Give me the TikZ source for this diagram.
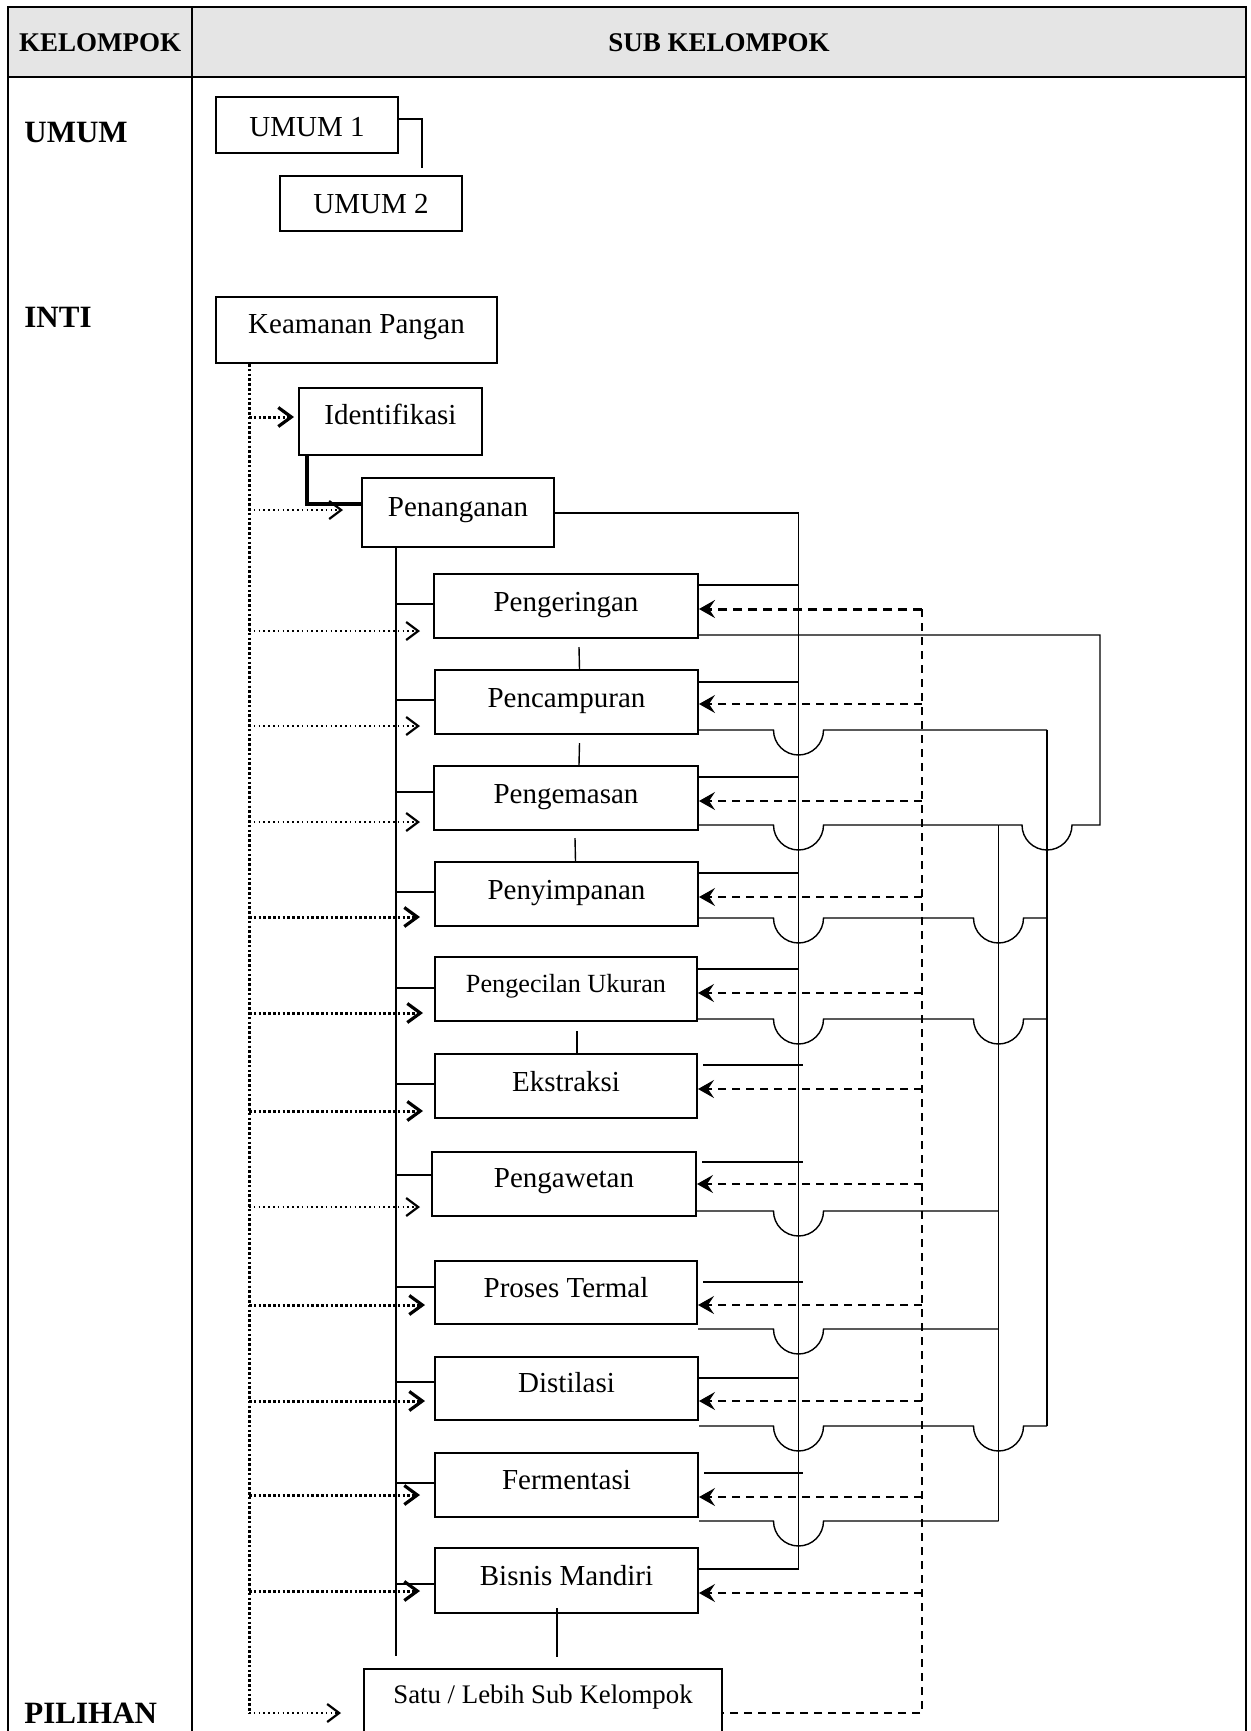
\documentclass[tikz,border=0pt]{standalone}
\usepackage{fontspec}
\setmainfont{Liberation Serif}
\usetikzlibrary{arrows.meta}
\definecolor{hdrgray}{RGB}{229,229,229}
\newcommand\mybox[7]{%
  \pgfmathsetmacro\mbW{(#4-#2)*0.5}%
  \pgfmathsetmacro\mbH{(#5-#3)*0.5}%
  \pgfmathsetmacro\mbX{(#2+#4)/2}%
  \pgfmathsetmacro\mbY{(#3+#5)/2}%
  \node[boxsty, minimum width=\mbW pt, minimum height=\mbH pt, text height=#6pt] (#1) at (\mbX,\mbY) {#7};}
\tikzset{
  boxsty/.style={draw, line width=1pt, inner sep=0pt, text depth=0pt, font=\fontsize{14.5}{17}\selectfont},
  tbl/.style={line width=1.3pt},
  hdr/.style={font=\bfseries\fontsize{13.5}{16}\selectfont},
  lbl/.style={font=\bfseries\fontsize{15.5}{18}\selectfont, anchor=base west, inner sep=0pt},
  conn/.style={line width=0.7pt},
  thk/.style={line width=1.6pt},
  dotthin/.style={line width=0.8pt, dash pattern=on 0.8pt off 1.6pt},
  dotthk/.style={line width=1.5pt, dash pattern=on 1.3pt off 1.1pt},
  dotarr/.style={-{Straight Barb[length=6pt,width=9pt,line width=1.1pt]}},
  dotarrb/.style={-{Straight Barb[length=6.5pt,width=9.5pt,line width=1.6pt]}},
  dashln/.style={line width=0.75pt, dash pattern=on 4pt off 3pt},
  dasharr/.style={dashln, -{Stealth[length=8pt,width=9pt,inset=3pt]}},
  dashthk/.style={line width=1.5pt, dash pattern=on 4.5pt off 3pt, -{Stealth[length=8pt,width=9pt,inset=3pt]}}
}
\begin{document}
\begin{tikzpicture}[x=0.5pt,y=-0.5pt]
\clip (0,0) rectangle (1250,1731);
% table
\fill[hdrgray] (8,7) rectangle (1246,77);
\draw[tbl] (8,1745) -- (8,7) -- (1246,7) -- (1246,1745);
\draw[tbl] (8,77) -- (1246,77);
\draw[tbl] (192,7) -- (192,1745);
\node[hdr] (hk) at (100,43) {KELOMPOK};
\node[hdr] (hs) at (719,43) {SUB KELOMPOK};
\node[lbl] (lumum) at (24,142) {UMUM};
\node[lbl] (linti) at (24,327) {INTI};
\node[lbl] (lpil) at (24,1723) {PILIHAN};
% boxes
\mybox{u1}{216}{97}{398}{153}{11}{UMUM 1}
\mybox{u2}{280}{176}{462}{231}{9.5}{UMUM 2}
\mybox{kp}{216}{297}{497}{363}{3}{Keamanan Pangan}
\mybox{idf}{299}{388}{482}{455}{2.5}{Identifikasi}
\mybox{pnn}{362}{478}{554}{547}{3.5}{Penanganan}
\mybox{pgr}{434}{574}{698}{638}{5}{Pengeringan}
\mybox{pcm}{435}{670}{698}{734}{5}{Pencampuran}
\mybox{pgm}{434}{766}{698}{830}{5}{Pengemasan}
\mybox{pys}{435}{862}{698}{926}{5}{Penyimpanan}
\mybox{puk}{435}{957}{697}{1021}{3}{\fontsize{13.1}{15}\selectfont Pengecilan Ukuran}
\mybox{eks}{435}{1054}{697}{1118}{5}{Ekstraksi}
\mybox{paw}{432}{1152}{696}{1216}{3}{Pengawetan}
\mybox{ptm}{435}{1261}{697}{1324}{5}{Proses Termal}
\mybox{dst}{435}{1357}{698}{1420}{4}{Distilasi}
\mybox{fmt}{435}{1453}{698}{1517}{4}{Fermentasi}
\mybox{bmd}{435}{1548}{698}{1613}{4.5}{Bisnis Mandiri}
\node[boxsty, minimum width=179pt, minimum height=50pt] (satu) at (543,1719) {};
\node[font=\fontsize{13.4}{16}\selectfont, anchor=base, inner sep=0pt] (satut) at (543,1703) {Satu / Lebih Sub Kelompok};
% coordinates
\coordinate (busA) at (798.5,513);
\coordinate (busB) at (998.5,825);
\coordinate (busC) at (1047,730);
\coordinate (dbus) at (922,609);
\coordinate (busL) at (396,547);
\coordinate (dotb) at (249,365);
% UMUM link
\draw[conn] (u1.east |- 0,119) -- (422,119) -- (422,168);
% Identifikasi -> Penanganan
\draw[thk] (idf.south -| 307,0) -- (307,504) -- (pnn.west |- 0,504);
% bus A
\draw[conn] (pnn.east |- 0,513) -- (busA) -- (busA |- 0,1569) -- (bmd.east |- 0,1569);
\foreach \nm/\yy in {pgr/585, pcm/682, pgm/777, pys/873, puk/969, dst/1378}
  \draw[conn] (\nm.east |- 0,\yy) -- (busA |- 0,\yy);
\foreach \nm/\yy in {eks/1065, paw/1162, ptm/1282, fmt/1473}
  \draw[conn] ([xshift=2.5pt]\nm.east |- 0,\yy) -- ([xshift=2pt]busA |- 0,\yy);
% bus B and C
\draw[conn] (busB) -- (busB |- 0,1521);
\draw[conn] (busC) -- (busC |- 0,1426);
% bottom lines
\draw[conn] (pgr.east |- 0,635) -- (1100,635) -- (1100,825) -- (1072,825) arc[start angle=0,end angle=-180,radius=12.5pt] -- (busB);
\draw[conn] (pcm.east |- 0,730) -- (773.5,730) arc[start angle=180,end angle=360,radius=12.5pt] -- (busC);
\foreach \nm/\yy in {pgm/825, paw/1211, ptm/1329, fmt/1521}
  \draw[conn] (\nm.east |- 0,\yy) -- (773.5,\yy) arc[start angle=180,end angle=360,radius=12.5pt] -- (busB |- 0,\yy);
\foreach \nm/\yy in {pys/918, puk/1019, dst/1426}
  \draw[conn] (\nm.east |- 0,\yy) -- (773.5,\yy) arc[start angle=180,end angle=360,radius=12.5pt] -- (973.5,\yy) arc[start angle=180,end angle=360,radius=12.5pt] -- (busC |- 0,\yy);
% dashed feedback
\draw[dashln] (dbus) -- (dbus |- 0,1713) -- (satu.east |- 0,1713);
\draw[dashthk] (dbus) -- (pgr.east |- dbus);
\foreach \nm/\yy in {pcm/704, pgm/801, pys/897, puk/993, eks/1089, paw/1184, ptm/1305, dst/1401, fmt/1497, bmd/1593}
  \draw[dasharr] (dbus |- 0,\yy) -- (\nm.east |- 0,\yy);
% vertical links between boxes
\draw[conn] ([xshift=6.5pt,yshift=-4pt]pgr.south) -- ([xshift=6.5pt]pcm.north);
\draw[conn] ([xshift=6.5pt,yshift=-4pt]pcm.south) -- ([xshift=6.5pt]pgm.north);
\draw[conn] ([xshift=4.5pt,yshift=-3.5pt]pgm.south) -- ([xshift=4.5pt]pys.north);
\draw[conn] ([xshift=5.5pt,yshift=-4.5pt]puk.south) -- ([xshift=5.5pt]eks.north);
\draw[conn] ([xshift=-4.75pt,yshift=3pt]bmd.south) -- ++(0,49);
% left bus
\draw[conn] (busL) -- (busL |- 0,1656);
\foreach \nm/\yy in {pgr/604, pcm/700, pgm/792, pys/892, puk/988, eks/1084, paw/1175, ptm/1287, dst/1382, fmt/1483, bmd/1584}
  \draw[conn] (busL |- 0,\yy) -- (\nm.west |- 0,\yy);
% dotted
\draw[dotthk] (kp.south -| dotb) -- (dotb |- 0,1713);
\foreach \nm/\yy/\sh in {pnn/510/9, pgr/631/6.5, pcm/726/7, pgm/822/6.5, paw/1207/5.5}
  \draw[dotthin, dotarr, shorten >=\sh pt] (dotb |- 0,\yy) -- (\nm.west |- 0,\yy);
\foreach \nm/\yy/\sh in {idf/417/2, pys/917/7, puk/1013/5.5, eks/1111/5.5, ptm/1305/4.5, dst/1401/4.5, fmt/1495/7, bmd/1591/7}
  \draw[dotthk, dotarrb, shorten >=\sh pt] (dotb |- 0,\yy) -- (\nm.west |- 0,\yy);
\draw[dotthin, dotarr, shorten >=11pt] (dotb |- 0,1713) -- (satu.west |- 0,1713);
\end{tikzpicture}
\end{document}
